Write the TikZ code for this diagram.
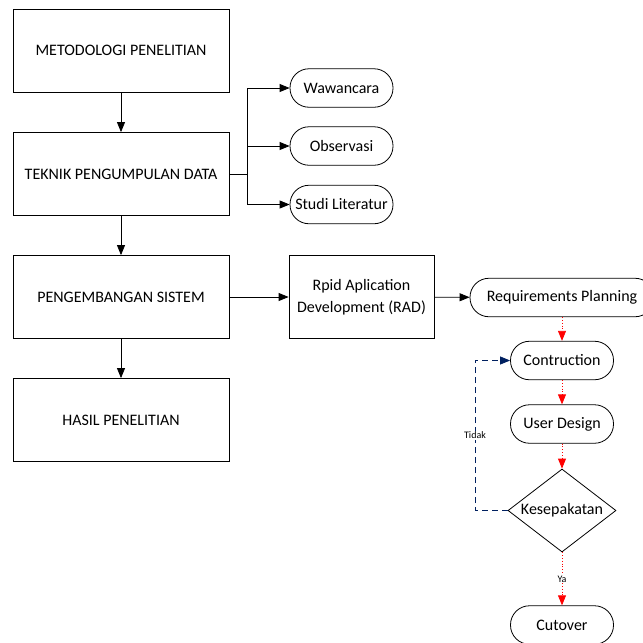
\documentclass[tikz,border=0pt]{standalone}
\usepackage{fontspec}
\setmainfont{Carlito}
\usetikzlibrary{arrows.meta,shapes.geometric,positioning}
\definecolor{navyline}{RGB}{0,32,96}
\definecolor{redline}{RGB}{255,0,0}

\tikzset{
  box/.style={draw, line width=0.8pt, minimum width=216pt, minimum height=83pt,
              font=\fontsize{16}{22}\selectfont},
  term/.style={draw, line width=0.8pt, rounded corners=19pt, minimum width=103pt,
               minimum height=38.5pt, inner sep=2pt, font=\fontsize{16}{19}\selectfont},
  decision/.style={draw, diamond, aspect=1.3, line width=0.8pt, inner sep=0pt,
                   minimum width=108pt, minimum height=83pt, font=\fontsize{16}{19}\selectfont},
  link/.style={line width=0.8pt},
  arr/.style={link, -{Triangle[length=10pt,width=8pt]}},
  redarr/.style={line width=0.8pt, redline, dotted, -{Triangle[length=10pt,width=8pt,sep=0pt]}},
  navyarr/.style={line width=0.8pt, navyline, dash pattern=on 6pt off 4pt,
                  -{Triangle[length=10pt,width=8pt]}},
  lbl/.style={fill=white, inner sep=1pt, text=black, font=\fontsize{10}{11}\selectfont}
}

\begin{document}
\begin{tikzpicture}[x=1pt, y=-1pt]
\useasboundingbox (0,0) rectangle (643,643);

% tahapan penelitian
\node[box] (metode)       at (121,50.5) {METODOLOGI PENELITIAN};
\node[box] (teknik)       at (121,174)  {TEKNIK PENGUMPULAN DATA};
\node[box] (pengembangan) at (121,297)  {PENGEMBANGAN SISTEM};
\node[box] (hasil)        at (121,420)  {HASIL PENELITIAN};

% teknik pengumpulan data
\node[term] (wawancara) at (341.5,88)    {Wawancara};
\node[term] (observasi) at (341.5,146)   {Observasi};
\node[term] (studi)     at (341.5,204.5) {Studi Literatur};
\coordinate (cabang) at (247,174);

% metode RAD
\node[box, minimum width=145pt, align=center] (rad) at (361.5,297) {Rpid Aplication\\Development (RAD)};
\node[term, minimum width=184pt] (reqplan) at (562,297.5) {Requirements Planning};
\node[term] (contruction) at (562,360.5) {Contruction};
\node[term] (userdesign)  at (562,424)   {User Design};
\node[decision] (kesepakatan) at (562,510.5) {Kesepakatan};
\node[term] (cutover)     at (562,625)   {Cutover};
\coordinate (balik) at (475,510.5);

\draw[arr] (metode) -- (teknik);
\draw[arr] (teknik) -- (pengembangan);
\draw[arr] (pengembangan) -- (hasil);

\draw[link] (teknik.east) -- (cabang);
\draw[arr] (cabang) |- (wawancara.west);
\draw[arr] (cabang) |- (observasi.west);
\draw[arr] (cabang) |- (studi.west);

\draw[arr] (pengembangan) -- (rad);
\draw[arr] (rad) -- (reqplan);

\draw[redarr] (reqplan) -- (contruction);
\draw[redarr] (contruction) -- (userdesign);
\draw[redarr] (userdesign) -- (kesepakatan);
\draw[redarr] (kesepakatan) -- node[lbl] {Ya} (cutover);

\draw[navyarr] (kesepakatan.west) -- (balik) |- node[lbl, pos=0.25] {Tidak} (contruction.west);
\end{tikzpicture}
\end{document}
